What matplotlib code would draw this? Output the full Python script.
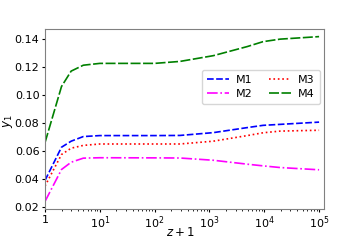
import numpy as np
import matplotlib.pyplot as plt
from matplotlib.ticker import FuncFormatter

# значения
zp1 = [1, 2, 3, 5, 10, 100, 290, 1175, 4900, 9500, 19500, 100000]
m1 = [0.039, 0.0627, 0.067, 0.0703, 0.071, 0.071, 0.0711, 0.0731, 0.0767, 0.0783, 0.079, 0.0806]
m2 = [0.024, 0.0468, 0.052, 0.0549, 0.0552, 0.0551, 0.055, 0.0534, 0.0506, 0.0494, 0.0482, 0.0466]
m3 = [0.035, 0.0575, 0.062, 0.064, 0.065, 0.065, 0.065, 0.067, 0.071, 0.073, 0.0742, 0.0748]
m4 = [0.066, 0.106, 0.117, 0.1212, 0.1225, 0.1225, 0.1239, 0.128, 0.1345, 0.138, 0.1398, 0.1416]

fig = plt.figure(figsize=(3.6, 2.4), dpi=100)
ax = fig.add_axes([0.125, 0.129, 0.775, 0.75])

ax.plot(zp1, m1, color='blue', ls=(0, (4, 1.5)), lw=1.2, label='M1')
ax.plot(zp1, m2, color='magenta', ls='-.', lw=1.2, label='M2')
ax.plot(zp1, m3, color='red', ls=':', lw=1.2, label='M3')
ax.plot(zp1, m4, color='green', ls=(0, (6, 1.5)), lw=1.2, label='M4')

ax.set_xscale('log')
ax.set_xlim(1, 1.23e5)
ax.set_ylim(0.0186, 0.147)
ax.set_yticks([0.02, 0.04, 0.06, 0.08, 0.10, 0.12, 0.14])
ax.set_xticks([1, 10, 100, 1e3, 1e4, 1e5])
ax.xaxis.set_major_formatter(FuncFormatter(
    lambda v, p: '1' if v == 1 else r'$10^{%d}$' % round(np.log10(v))))

ax.set_xlabel('$z+1$', fontsize=8.5, va='center')
ax.xaxis.set_label_coords(0.485, -0.128)
ax.set_ylabel('$y_1$', fontsize=8.5, va='center')
ax.yaxis.set_label_coords(-0.133, 0.49)
ax.tick_params(which='major', labelsize=8, length=2.5, pad=1.5)
ax.tick_params(which='minor', length=1.5)
for s in ax.spines.values():
    s.set_color('gray')

ax.legend(ncol=2, loc='upper right', bbox_to_anchor=(0.985, 0.775),
          borderaxespad=0, fontsize=8, handlelength=2.0, columnspacing=1.5,
          handletextpad=0.6, labelspacing=0.4, borderpad=0.45)

fig.savefig('out.png', dpi=100)
